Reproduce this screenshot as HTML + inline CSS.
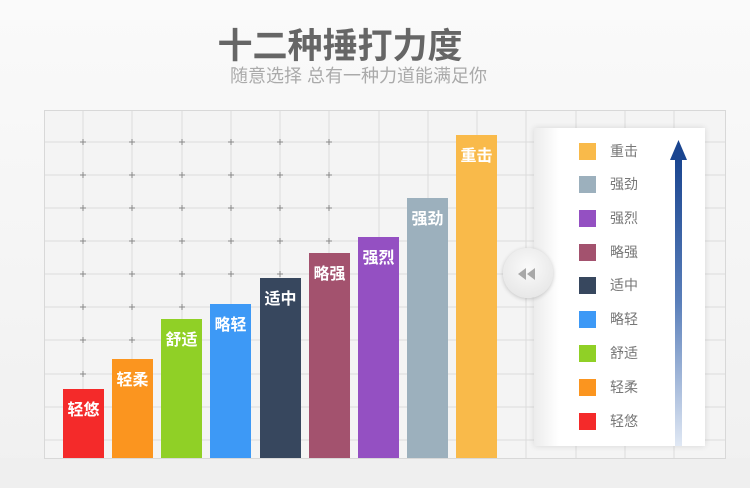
<!DOCTYPE html>
<html><head><meta charset="utf-8"><style>
body{margin:0;width:750px;height:488px;overflow:hidden;background:linear-gradient(#fafafa,#f0f0f0);font-family:"Liberation Sans","Noto Sans CJK SC",sans-serif;position:relative}
.t{position:absolute;left:0;width:680px;text-align:center;}
.bar{position:absolute;width:41px;bottom:30px;color:#fff;font-weight:bold;font-size:16px;text-align:center;line-height:20px;padding-top:12px;box-sizing:border-box}
.sw{position:absolute;left:45px;width:17px;height:17px}
.lt{position:absolute;left:76px;font-size:14px;color:#777;line-height:17px}
</style></head><body>
<div class="t" style="top:18px;left:0;width:680px;font-size:35px;font-weight:bold;color:#666;letter-spacing:0px">十二种捶打力度</div>
<div class="t" style="top:62px;left:0;width:717px;font-size:18px;color:#aaa">随意选择 总有一种力道能满足你</div>
<svg style="position:absolute;left:0;top:0" width="750" height="488">
<rect x="0" y="458" width="750" height="30" fill="#efefef"/>
<rect x="44.5" y="110.5" width="681" height="348" fill="#f4f4f4" stroke="#d8d8d8"/>
<g stroke="#dcdcdc" stroke-width="1">
<path d="M83 111V458M132 111V458M182 111V458M231 111V458M280 111V458M329 111V458M379 111V458M428 111V458M477 111V458M526 111V458M576 111V458M625 111V458M674 111V458"/>
<path d="M45 142H725M45 175H725M45 208H725M45 241H725M45 274H725M45 307H725M45 340H725M45 374H725M45 407H725M45 440H725"/>
</g>
<g stroke="#888" stroke-width="1">
<path d="M80 142h6M83 139v6M129 142h6M132 139v6M179 142h6M182 139v6M228 142h6M231 139v6M277 142h6M280 139v6M326 142h6M329 139v6M80 175h6M83 172v6M129 175h6M132 172v6M179 175h6M182 172v6M228 175h6M231 172v6M277 175h6M280 172v6M326 175h6M329 172v6M80 208h6M83 205v6M129 208h6M132 205v6M179 208h6M182 205v6M228 208h6M231 205v6M277 208h6M280 205v6M326 208h6M329 205v6M80 241h6M83 238v6M129 241h6M132 238v6M179 241h6M182 238v6M228 241h6M231 238v6M277 241h6M280 238v6M326 241h6M329 238v6M80 274h6M83 271v6M129 274h6M132 271v6M179 274h6M182 271v6M228 274h6M231 271v6M277 274h6M280 271v6M80 307h6M83 304v6M129 307h6M132 304v6M179 307h6M182 304v6M80 340h6M83 337v6M129 340h6M132 337v6M80 374h6M83 371v6M129 374h6M132 371v6"/>
</g>
</svg>
<div class="bar" style="left:63px;top:389px;background:#f42a2a">轻悠</div>
<div class="bar" style="left:112px;top:359px;background:#fb951f">轻柔</div>
<div class="bar" style="left:161px;top:319px;background:#90d026">舒适</div>
<div class="bar" style="left:210px;top:304px;background:#3d99f6">略轻</div>
<div class="bar" style="left:260px;top:278px;background:#37475e">适中</div>
<div class="bar" style="left:309px;top:253px;background:#a3526e">略强</div>
<div class="bar" style="left:358px;top:237px;background:#9450c2">强烈</div>
<div class="bar" style="left:407px;top:198px;background:#9cb0bd">强劲</div>
<div class="bar" style="left:456px;top:135px;background:#f9ba4a">重击</div>
<div style="position:absolute;left:534px;top:128px;width:171px;height:318px;background:linear-gradient(90deg,#ececec,#fff 25px);box-shadow:0 0 6px rgba(0,0,0,.12)">
<div class="sw" style="top:15px;background:#f9ba4a"></div><div class="lt" style="top:15px">重击</div>
<div class="sw" style="top:48px;background:#9cb0bd"></div><div class="lt" style="top:48px">强劲</div>
<div class="sw" style="top:82px;background:#9450c2"></div><div class="lt" style="top:82px">强烈</div>
<div class="sw" style="top:116px;background:#a3526e"></div><div class="lt" style="top:116px">略强</div>
<div class="sw" style="top:149px;background:#37475e"></div><div class="lt" style="top:149px">适中</div>
<div class="sw" style="top:183px;background:#3d99f6"></div><div class="lt" style="top:183px">略轻</div>
<div class="sw" style="top:217px;background:#90d026"></div><div class="lt" style="top:217px">舒适</div>
<div class="sw" style="top:251px;background:#fb951f"></div><div class="lt" style="top:251px">轻柔</div>
<div class="sw" style="top:285px;background:#f42a2a"></div><div class="lt" style="top:285px">轻悠</div>
<svg style="position:absolute;left:130px;top:10px" width="30" height="310">
<defs><linearGradient id="g" x1="0" y1="0" x2="0" y2="1"><stop offset="0" stop-color="#1a4590"/><stop offset="0.5" stop-color="#5a7fba"/><stop offset="1" stop-color="#e0e8f4"/></linearGradient></defs>
<rect x="11" y="20" width="7" height="288" fill="url(#g)"/>
<polygon points="14.5,2 23,22 6,22" fill="#1a4590"/>
</svg>
</div>
<div style="position:absolute;left:503px;top:248px;width:50px;height:50px;border-radius:50%;background:radial-gradient(circle at 50% 40%,#fafafa,#e2e2e2);box-shadow:0 1px 4px rgba(0,0,0,.2)"></div>
<svg style="position:absolute;left:516px;top:266px" width="24" height="16"><polygon points="2,8 10,2 10,14" fill="#a8a8a8"/><polygon points="11,8 19,2 19,14" fill="#a8a8a8"/></svg>
</body></html>
